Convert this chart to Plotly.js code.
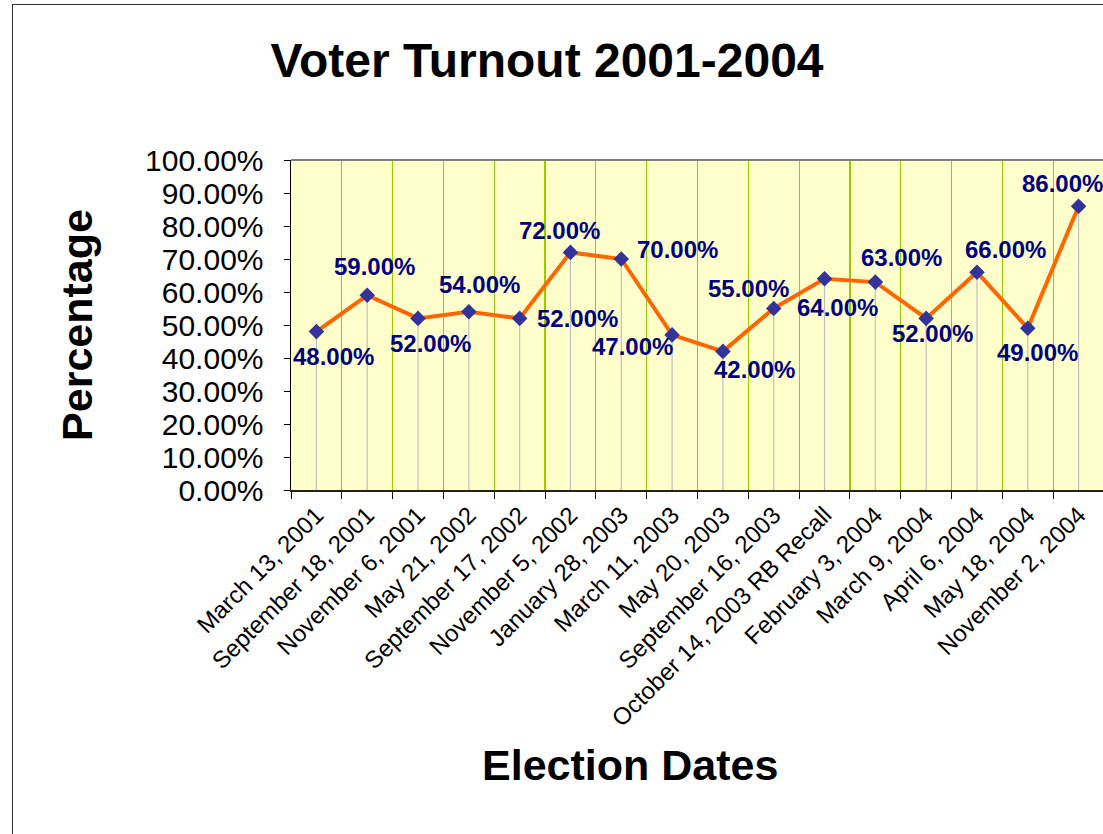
<!DOCTYPE html>
<html>
<head>
<meta charset="utf-8">
<script src="https://cdn.plot.ly/plotly-3.0.1.min.js"></script>
<style>
  html, body { margin: 0; padding: 0; overflow: hidden; background: #fff; }
  #wrap { position: relative; width: 1103px; height: 834px; overflow: hidden; }
  #chart { position: absolute; left: 0; top: 0; width: 1110px; height: 834px; }
  #frame { position: absolute; left: 12px; top: 4px; width: 1200px; height: 1000px;
           border: 1.5px solid #333; pointer-events: none; box-sizing: border-box; }
</style>
</head>
<body>
<div id="wrap">
  <div id="chart"></div>
  <div id="frame"></div>
</div>
<script>
// Categories (election dates)
const electionDates = [
  "March 13, 2001", "September 18, 2001", "November 6, 2001", "May 21, 2002",
  "September 17, 2002", "November 5, 2002", "January 28, 2003", "March 11, 2003",
  "May 20, 2003", "September 16, 2003", "October 14, 2003 RB Recall", "February 3, 2004",
  "March 9, 2004", "April 6, 2004", "May 18, 2004", "November 2, 2004"
];
// Turnout values (fractions)
const turnout = [0.48, 0.59, 0.52, 0.54, 0.52, 0.72, 0.70, 0.47,
                 0.42, 0.55, 0.64, 0.63, 0.52, 0.66, 0.49, 0.86];
// Y tick values
const yTicks = [0, 0.1, 0.2, 0.3, 0.4, 0.5, 0.6, 0.7, 0.8, 0.9, 1.0];

// Label placement offsets in pixels (layout, not data)
const labelShiftX = [17, 7, 12, 11, 58, -11, 56, -40, 32, -25, 13, 26, 6, 29, 10, -16];
const labelShiftY = [-25, 29, -25, 27, 0, 22, 10, -12, -18, 20, -29, 25, -15, 23, -24, 23];

const FONT = 'Arial, "Liberation Sans", sans-serif';

const trace = {
  type: 'scatter',
  mode: 'lines+markers',
  x: electionDates,
  y: turnout,
  line: { color: '#FF6600', width: 4 },
  marker: { symbol: 'diamond', size: 12, color: '#333399', line: { width: 0 } },
  error_y: {
    type: 'data', symmetric: false,
    array: turnout.map(() => 0),
    arrayminus: turnout,
    color: '#C0C0C0', thickness: 1.2, width: 0
  },
  hoverinfo: 'x+y',
  showlegend: false
};

const labelAnnotations = electionDates.map((d, i) => ({
  x: d, y: turnout[i], xref: 'x', yref: 'y',
  text: (turnout[i] * 100).toFixed(2) + '%',
  showarrow: false,
  xshift: labelShiftX[i], yshift: labelShiftY[i],
  font: { family: FONT, size: 24, color: '#000080', weight: 'bold' }
}));

const layout = {
  width: 1110, height: 834,
  margin: { l: 291, r: 6, t: 160, b: 344 },
  paper_bgcolor: 'rgba(0,0,0,0)',
  plot_bgcolor: '#FFFFCC',
  font: { family: FONT, color: '#000' },
  title: {
    text: 'Voter Turnout 2001-2004',
    x: 547 / 1110, xanchor: 'center', xref: 'container',
    y: 1 - 60 / 834, yanchor: 'middle', yref: 'container',
    font: { family: FONT, size: 48, color: '#000', weight: 'bold' }
  },
  xaxis: {
    type: 'category',
    tickson: 'boundaries',
    showgrid: true, gridcolor: '#99CC00', gridwidth: 1.2,
    ticks: 'outside', ticklen: 7, tickcolor: '#000', tickwidth: 1,
    showline: true, linecolor: '#222', linewidth: 1.5,
    tickangle: -45,
    tickfont: { family: FONT, size: 24, color: '#000' },
    range: [-0.5, electionDates.length - 0.5],
    automargin: false, fixedrange: true
  },
  yaxis: {
    range: [0, 1],
    tickvals: yTicks,
    tickformat: '.2%',
    showgrid: false, zeroline: false,
    ticks: 'outside', ticklen: 6, tickcolor: '#000', tickwidth: 1,
    showline: true, linecolor: '#000', linewidth: 1.5,
    tickfont: { family: FONT, size: 30, color: '#000' },
    ticklabelstandoff: 14,
    title: {
      text: 'Percentage',
      font: { family: FONT, size: 43, color: '#000', weight: 'bold' },
      standoff: 39
    },
    automargin: false, fixedrange: true
  },
  shapes: [
    { type: 'line', xref: 'paper', yref: 'paper', x0: 0, x1: 1, y0: 1, y1: 1,
      line: { color: '#808080', width: 2 } }
  ],
  annotations: labelAnnotations.concat([
    { text: 'Election Dates', xref: 'paper', yref: 'paper',
      x: (630 - 291) / 813, y: (490 - 765) / 330, xanchor: 'center', yanchor: 'middle',
      showarrow: false,
      font: { family: FONT, size: 43, color: '#000', weight: 'bold' } }
  ])
};

Plotly.newPlot('chart', [trace], layout, { displayModeBar: false, staticPlot: true });
</script>
</body>
</html>
